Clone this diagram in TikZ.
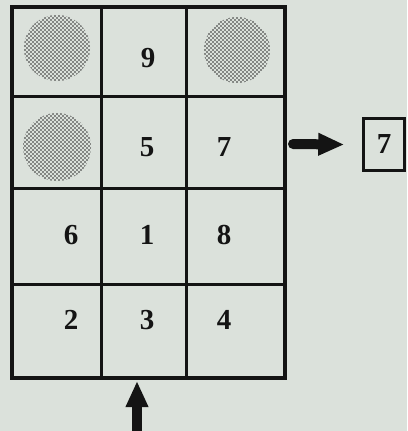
\documentclass[tikz,border=0pt]{standalone}
\usepackage{fontspec}
\setmainfont{Liberation Serif}
\usetikzlibrary{arrows.meta,patterns}
\definecolor{paper}{RGB}{219,225,219}
\definecolor{ink}{RGB}{20,20,20}
\pgfdeclarepatternformonly{bigdots}{\pgfqpoint{-1pt}{-1pt}}{\pgfqpoint{5pt}{5pt}}{\pgfqpoint{4pt}{4pt}}{%
  \pgfpathcircle{\pgfqpoint{1pt}{1pt}}{0.85pt}%
  \pgfpathcircle{\pgfqpoint{3pt}{3pt}}{0.85pt}%
  \pgfusepath{fill}}
\begin{document}
\begin{tikzpicture}[x=1pt,y=-1pt,
  num/.style={font=\bfseries\fontsize{29}{29}\selectfont, text=ink, inner sep=0pt},
  outer/.style={draw=ink, line width=3.6pt},
  inner/.style={draw=ink, line width=3pt},
  spot/.style={pattern=bigdots, pattern color=ink!90},
  fatarrow/.style={draw=ink, line width=10pt, line cap=round, -{Triangle[length=26pt,width=21pt]}}]
\fill[paper] (0,0) rectangle (407,431);
\useasboundingbox (0,0) rectangle (407,431);
% grid
\draw[inner] (101,7) -- (101,378);
\draw[inner] (186,7) -- (186,378);
\draw[inner] (12,96) -- (285,96);
\draw[inner] (12,188) -- (285,188);
\draw[inner] (12,284) -- (285,284);
\draw[outer] (12,7) rectangle (285,378);
% stippled discs
\fill[spot] (57,48) circle (33);
\fill[spot] (237,50) circle (33);
\fill[spot] (57,147) circle (34);
% numbers
\node[num] (n9) at (148,58) {9};
\node[num] (n5) at (147,147) {5};
\node[num] (n7) at (224,147) {7};
\node[num] (n6) at (71,235) {6};
\node[num] (n1) at (147,235) {1};
\node[num] (n8) at (224,235) {8};
\node[num] (n2) at (71,320) {2};
\node[num] (n3) at (147,320) {3};
\node[num] (n4) at (224,320) {4};
% output box
\node[num, draw=ink, line width=2.6pt, minimum width=41pt, minimum height=52pt] (out) at (384,144.5) {7};
% arrows
\coordinate (rtail) at (293,144);
\coordinate (btail) at (137,431);
\draw[fatarrow, shorten >=-4pt] (rtail) -- ([xshift=-22pt]out.west);
\draw[fatarrow] (btail) -- (137,381);
\end{tikzpicture}
\end{document}
